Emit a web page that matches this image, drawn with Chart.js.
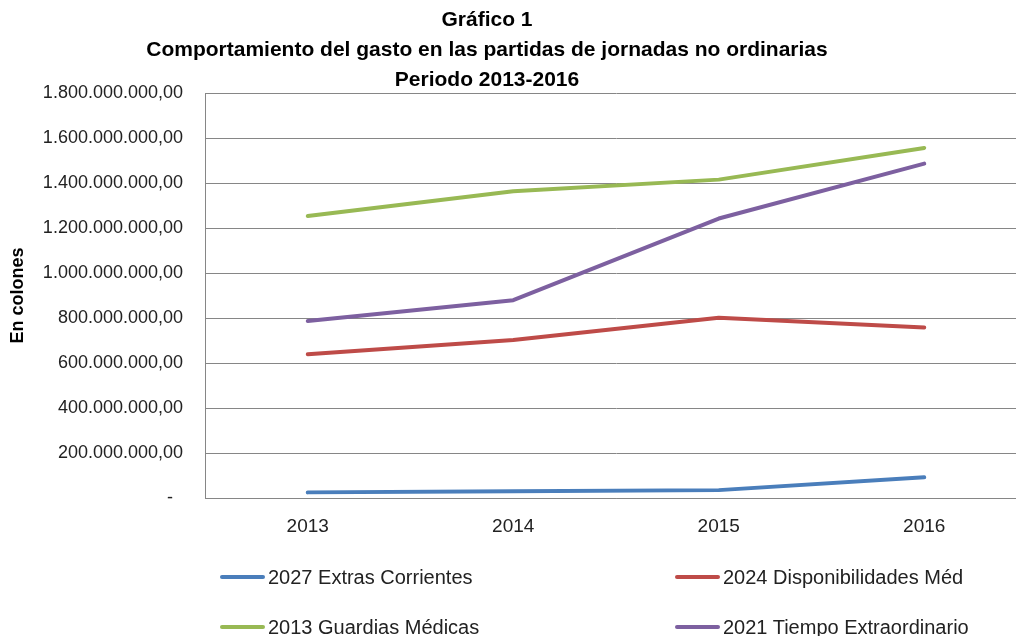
<!DOCTYPE html>
<html>
<head>
<meta charset="utf-8">
<script src="https://cdn.jsdelivr.net/npm/chart.js@4/dist/chart.umd.min.js"></script>
<style>
  html, body { margin: 0; padding: 0; width: 1016px; height: 636px; overflow: hidden; background: #fff; }
  #wrap { position: absolute; left: 0; top: 0; width: 1040px; height: 636px; }
  .title { position: absolute; left: 0; width: 974px; text-align: center; font-family: "Liberation Sans", Arial, sans-serif; font-weight: bold; font-size: 21px; color: #000; line-height: 24px; }
  .leg { position: absolute; font-family: "Liberation Sans", Arial, sans-serif; font-size: 20px; color: #222; line-height: 24px; white-space: nowrap; }
  .leg .sw { position: absolute; left: 0; top: 10px; width: 45px; height: 4px; border-radius: 2px; }
  .leg .tx { position: absolute; left: 48px; top: 0; }
</style>
</head>
<body>
<div id="wrap"><canvas id="c"></canvas></div>
<div class="title" style="top:7px">Gráfico 1</div>
<div class="title" style="top:37px">Comportamiento del gasto en las partidas de jornadas no ordinarias</div>
<div class="title" style="top:67px">Periodo 2013-2016</div>
<div id="legend"></div>
<script>
const categories = ["2013", "2014", "2015", "2016"];
const seriesNames = ["2027 Extras Corrientes", "2024 Disponibilidades Méd", "2013 Guardias Médicas", "2021 Tiempo Extraordinario"];
const extrasCorrientes = [25000000, 30000000, 35000000, 92000000];
const disponibilidadesMed = [639000000, 702000000, 801000000, 758000000];
const guardiasMedicas = [1253000000, 1363000000, 1415000000, 1556000000];
const tiempoExtraordinario = [787000000, 879000000, 1242000000, 1486000000];
const seriesColors = ["#4A7EBB", "#BE4B48", "#98B954", "#7D60A0"];
const yAxisTitle = "En colones";

const seriesValues = [extrasCorrientes, disponibilidadesMed, guardiasMedicas, tiempoExtraordinario];

function fmt(v) {
  if (v === 0) return "-\u00a0\u00a0";
  return String(Math.round(v)).replace(/\B(?=(\d{3})+(?!\d))/g, ".") + ",00";
}

const datasets = seriesNames.map((n, i) => ({
  label: n,
  data: seriesValues[i],
  borderColor: seriesColors[i],
  backgroundColor: seriesColors[i],
  borderWidth: 4,
  borderCapStyle: "round",
  borderJoinStyle: "round",
  pointRadius: 0,
  pointHoverRadius: 0,
  tension: 0,
  fill: false,
  order: seriesNames.length - i
}));

const FONT = "'Liberation Sans', Arial, sans-serif";

new Chart(document.getElementById("c"), {
  type: "line",
  data: { labels: categories, datasets },
  options: {
    responsive: true,
    maintainAspectRatio: false,
    animation: false,
    layout: { padding: { left: 3, right: 13, top: 93, bottom: 78 } },
    plugins: { legend: { display: false }, title: { display: false }, tooltip: { enabled: false } },
    scales: {
      x: {
        offset: true,
        grid: { display: false, drawTicks: false },
        border: { display: true, color: "#868686", width: 1 },
        ticks: { padding: 17, color: "#222", font: { family: FONT, size: 19 }, maxRotation: 0 },
        afterFit: (s) => { s.height = 60; }
      },
      y: {
        min: 0,
        max: 1800000000,
        grid: { color: "#868686", lineWidth: 1, drawTicks: false },
        border: { display: true, color: "#868686", width: 1 },
        ticks: { stepSize: 200000000, padding: 22, color: "#222", font: { family: FONT, size: 18 }, callback: (v) => fmt(v) },
        title: { display: true, text: yAxisTitle, color: "#000", font: { family: FONT, size: 18, weight: "bold" }, padding: { top: 4, bottom: 4 } },
        afterFit: (s) => { s.width = 202; }
      }
    }
  }
});

// HTML legend built from the series arrays
const legendPos = [[220, 565], [675, 565], [220, 615], [675, 615]];
const lg = document.getElementById("legend");
seriesNames.forEach((n, i) => {
  const d = document.createElement("div");
  d.className = "leg";
  d.style.left = legendPos[i][0] + "px";
  d.style.top = legendPos[i][1] + "px";
  d.innerHTML = '<span class="sw" style="background:' + seriesColors[i] + '"></span><span class="tx"></span>';
  d.querySelector(".tx").textContent = n;
  lg.appendChild(d);
});
</script>
</body>
</html>
